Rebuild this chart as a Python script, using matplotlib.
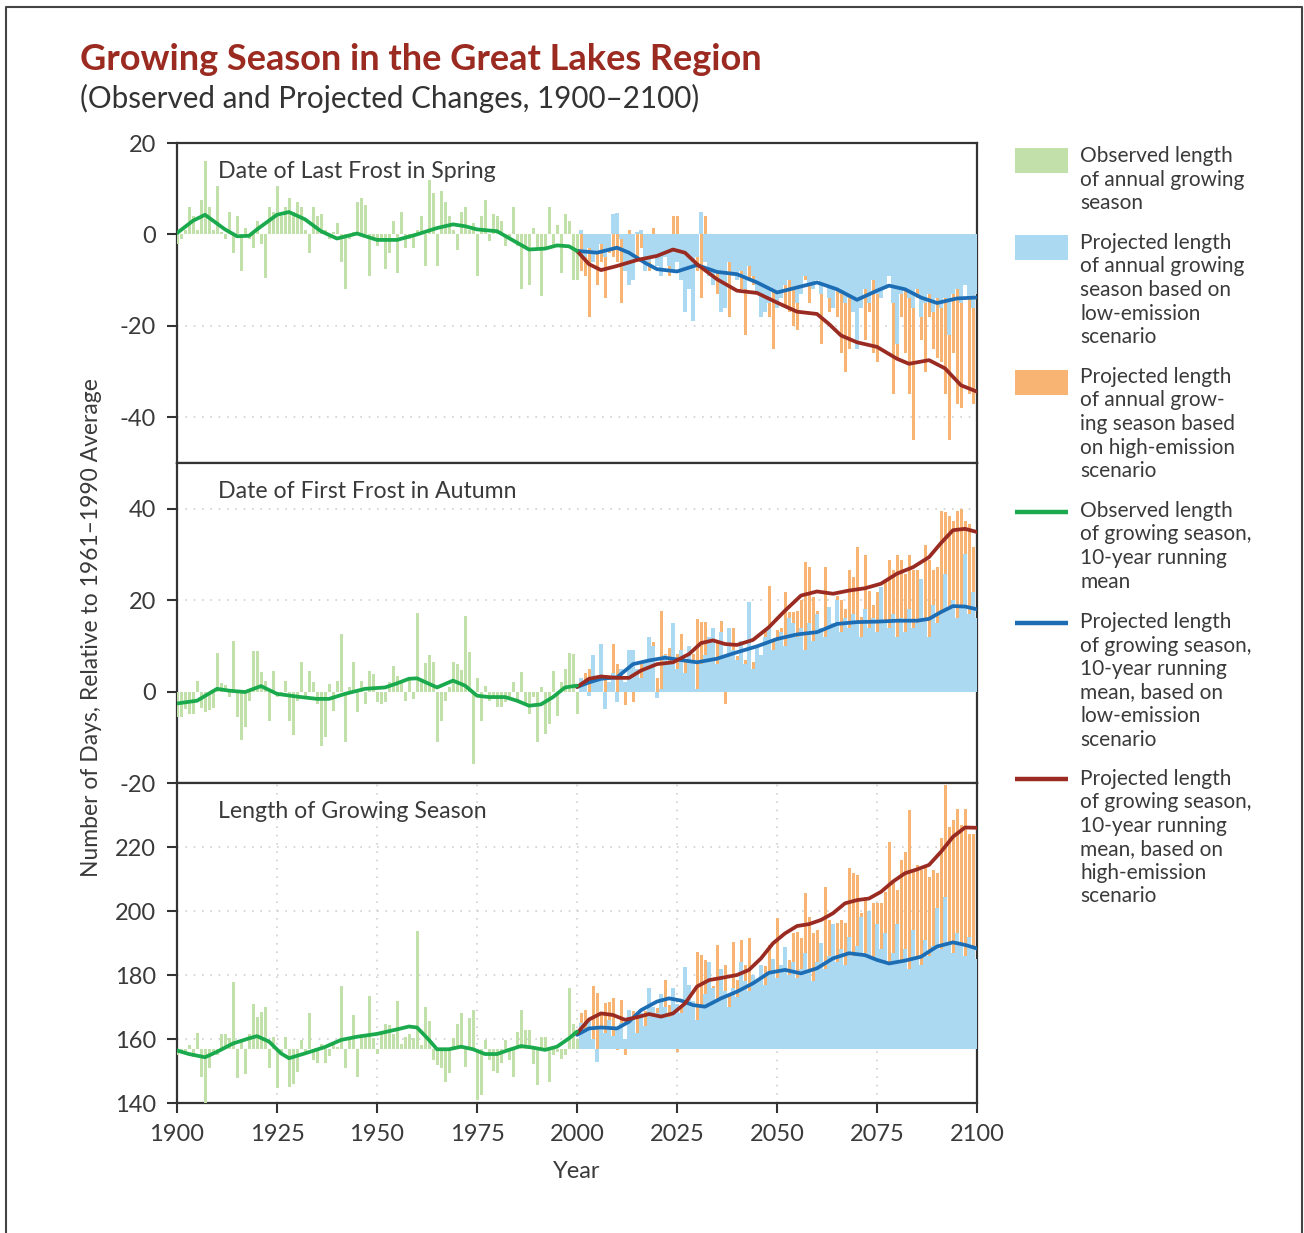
import matplotlib
matplotlib.use("Agg")
import matplotlib.pyplot as plt
import numpy as np
from matplotlib.patches import Rectangle

plt.rcParams['font.family'] = ['Lato', 'DejaVu Sans']

# ---------------- data ----------------
obs_years = list(range(1900, 2001))
proj_years = list(range(2001, 2101))

# Panel 1: Date of last frost in spring (days relative to 1961-1990 avg)
spring_obs = [-2, -1, 1, 6, 4, 1, 7.5, 16, 6, 1,
              10.5, 0.5, -1, 5, -4, 4, -8, 1.5, -1, -3,
              3, -2, -9.5, 6, 5, 10.5, 4, 6, 8, 5,
              7, 6, 1, -4, 6, 4, 4.5, 1, -1, 0.5,
              2.5, -6, -12, -1, 0.5, 7, 8, 6.5, -9, -1,
              -2.5, -1, -7.5, -4, 3, -8.5, 5, -3, -1, -3,
              1, 4, -7, 12, 9, -7, 9.5, 7, 4, 1,
              -3.5, 5, 6, 1, 2.5, -9, 4, 7.5, -1.5, 4.5,
              4, 3, -2.5, -1, 6, -2.5, -12, -3, -11, 1.5,
              -3, -13.5, -3, 6, -2.5, 2, -8.5, 4.5, 3, -10,
              -10]
spring_low = [1, -5, -3, -6, -4, -2, -5, -3, 4.5, 4.7,
              -1, -8, -11, -10, 0.5, 1, -8, -6, -5, -7,
              -9, -5, -7, -8, -6, -10, -17, -12, -19, -5,
              5, -6, -9, -11, -8, -17, -16, -6, -9, -10,
              -8, -12, -7, -9, -13, -18, -17, -15, -12, -16,
              -14, -11, -10, -12, -15, -13, -9, -11, -12, -10,
              -13, -11, -14, -16, -12, -13, -15, -14, -17, -25,
              -16, -12, -15, -10, -13, -14, -12, -9, -15, -24,
              -13, -12, -14, -16, -12, -18, -15, -13, -17, -14,
              -16, -14, -22, -13, -12, -15, -11, -14, -16, -13]
spring_high = [-8, -9, -18, -3, -11, -6, -14, -4, -5, -6,
               -15, -3, 1, -9, -5, -3, -6, -8, 1.5, -6,
               -5, -3, -9, 4, 4, -4, -7, -10, -13, -8,
               -14, 4, -8, -5, -13, -13, -9, -18, -5, -10,
               -12, -22, -10, -11, -5, -12, -9, -18, -25, -9,
               -13, -16, -17, -20, -21, -13, -10, -15, -9, -10,
               -24, -8, -17, -13, -18, -26, -30, -25, -11, -20,
               -14, -23, -17, -26, -28, -14, -10, -8, -35, -27,
               -18, -26, -35, -45, -14, -23, -30, -18, -25, -27,
               -28, -35, -45, -26, -37, -38, -8, -35, -37, -32]
spring_obs_mean_x = [1900, 1904, 1907, 1912, 1915, 1918, 1920, 1925, 1928, 1932, 1936, 1940, 1945,
                     1950, 1955, 1960, 1965, 1969, 1972, 1975, 1980, 1985, 1988, 1992, 1995, 1998, 2000]
spring_obs_mean = [0.3, 3, 4.3, 1.1, -0.4, -0.3, 1.1, 4.3, 4.9, 3.3, 0.7, -0.9, 0.2,
                   -1.2, -1.2, 0, 1.4, 2.2, 1.8, 1.1, 0.7, -1.8, -3.3, -3.1, -2.4, -2.6, -3.6]
spring_low_mean_x = [2000, 2005, 2010, 2013, 2017, 2020, 2025, 2030, 2035, 2040, 2045, 2050,
                     2055, 2060, 2065, 2070, 2075, 2078, 2082, 2086, 2090, 2095, 2100]
spring_low_mean = [-3.6, -4, -2.9, -4, -6.2, -7.6, -8.1, -6.7, -8.2, -8.7, -10.5, -12.7,
                   -11.6, -10.5, -12, -14.3, -12.3, -11.2, -12, -13.8, -15, -14, -13.8]
spring_high_mean_x = [2000, 2003, 2006, 2010, 2015, 2020, 2024, 2027, 2030, 2035, 2040, 2045, 2050,
                      2055, 2060, 2063, 2066, 2070, 2075, 2080, 2083, 2088, 2092, 2096, 2100]
spring_high_mean = [-3.6, -6.5, -7.8, -6.9, -5.6, -4.7, -3.3, -4, -6.5, -9.8, -12.3, -12.8, -14.9,
                    -16.9, -17.4, -19.6, -22.1, -23.6, -24.6, -27.2, -28.3, -27.5, -29.3, -33, -34.4]

# Panel 2: Date of first frost in autumn
autumn_obs = [-5.6, -5.6, -3.8, -5, -5, 2.4, -3.5, -4.5, -4, -3.5,
              8.4, 1.8, 1.5, -1.2, 11, -5.6, -10.7, -7.8, -2, 8.8,
              8.8, 4.2, 2.4, -6.4, 4.6, -1.2, -0.5, 2.4, -6.4, -9.6,
              -2, 6.4, -1.2, 4.6, 2, -2.7, -11.8, -10, 1.7, -4.2,
              2.4, 12.6, -11, 1, 6.4, -4.5, 2.4, -2.7, 4.6, 3.9,
              -2.3, -2.7, -2.3, 2, 5.7, 3.5, 2, -2, 3, -1.6,
              17.2, 2.4, 6.2, 7.9, 6.4, -11, -6.4, -2, 1, 6.4,
              6, 4.7, 16.6, 8.6, -15.8, 3, -6.4, 1.3, -2, -1.2,
              -3.4, -3.4, -2.3, -1.2, 2, -2.3, 4.2, -2.7, -4.9, -1.2,
              -11, 1.1, -9.3, -7, 4.6, -5.3, 2, 5, 8.4, 8.2,
              -5]
autumn_low = [3, 2, -1, 8, 3, 10.4, -3.8, 2, 4, -2.3,
              5, 2, 9, 9, 5, 3, 7, 12, 10, -1.5,
              0.5, 8, 6, 15, 5, 9, 4, 10, 7, 0.5,
              6, 8, 12, 14, 6, 13, 8, 14, 9, 7,
              11, 6, 19.6, 5, 10, 8, 12, 14, 9, 11,
              13, 10, 16, 15, 12, 14, 9, 15, 11, 17,
              14, 12, 18.5, 15, 20, 13, 16, 14, 17, 15,
              12, 18, 14, 16, 13, 22.8, 15, 14, 17, 12,
              16, 13, 18, 14, 15, 24.7, 16, 12, 19, 15,
              17, 25.8, 18, 20, 16, 19, 30, 17, 21.7, 16]
autumn_high = [3, 4, 5, 2, 3, 4, 3, 1, 10.4, 6,
               0.2, -3, 9, -2.3, 4, 6.4, 5.9, 10.8, 10.8, 3,
               17.7, 8.2, 9.6, 7.4, 8.2, 12.6, 6.8, 6.8, 8.2, 15.9,
               15.2, 15.2, 9.6, 14, 10.8, 15.5, -2.7, 8.7, 14, 7.7,
               10.8, 6.8, 11.2, 6.4, 10, 7.4, 13.7, 23.2, 11.2, 13.4,
               14, 21.8, 17.4, 17.4, 17.7, 20, 28.3, 27.2, 20.6, 17.7,
               9.4, 27.2, 16.3, 8.3, 21, 20, 18.1, 26.5, 25, 31.6,
               16.3, 29.8, 22.1, 19, 21.7, 10.8, 24.3, 28.7, 26.5, 29.8,
               28.7, 25.8, 29.8, 26.5, 26.5, 22.8, 32, 28.7, 26.5, 27.2,
               39.6, 39.3, 38.5, 37.4, 39.6, 40, 37.4, 36.7, 31.6, 35]
autumn_obs_mean_x = [1900, 1905, 1910, 1913, 1917, 1921, 1925, 1930, 1935, 1938, 1942, 1947, 1952,
                     1955, 1958, 1960, 1963, 1965, 1969, 1972, 1975, 1978, 1982, 1985, 1988, 1991,
                     1994, 1997, 2000]
autumn_obs_mean = [-2.6, -2, 0.6, 0.2, -0.1, 1.2, -0.5, -1.1, -1.6, -1.6, -0.5, 0.6, 0.9,
                   1.8, 2.8, 2.9, 1.7, 0.9, 2.4, 1.3, -0.9, -1.2, -1.2, -2, -3.1, -2.8,
                   -1.2, 0.9, 1.3]
autumn_low_mean_x = [2000, 2003, 2006, 2010, 2014, 2018, 2022, 2026, 2030, 2035, 2040, 2045, 2050,
                     2055, 2060, 2065, 2070, 2075, 2080, 2085, 2088, 2091, 2094, 2097, 2100]
autumn_low_mean = [1, 2, 2.8, 3.1, 6, 6.8, 7.4, 6.9, 6.4, 7.2, 8.6, 9.9, 11.5,
                   12.5, 13, 14.8, 15.2, 15.3, 15.5, 15.5, 15.9, 17.4, 18.7, 18.6, 18]
autumn_high_mean_x = [2000, 2003, 2006, 2010, 2013, 2016, 2020, 2024, 2028, 2031, 2034, 2037, 2040,
                      2044, 2048, 2052, 2056, 2060, 2064, 2068, 2072, 2076, 2080, 2084, 2088, 2091,
                      2094, 2097, 2100]
autumn_high_mean = [1, 2.8, 3.3, 3, 3, 4.6, 6, 6.4, 8.2, 10.6, 11.2, 10.4, 10.2,
                    11.3, 14.1, 17.7, 21, 21.9, 21.4, 22.1, 22.6, 23.6, 25.8, 27.2, 29.4, 32.5,
                    35.3, 35.6, 34.9]

# Panel 3: Length of growing season (days)
season_baseline = 157
season_obs = [155, 156, 155.5, 158, 154.5, 161.8, 148, 139.4, 151, 156,
              155, 161.5, 161.7, 160.3, 177.8, 147.8, 159, 149, 161.7, 171,
              167, 168.5, 170, 151, 160.7, 144.6, 156, 160.7, 145, 146,
              149.6, 159.7, 156, 168, 153.5, 152.5, 158.5, 152.5, 154.6, 158,
              157.5, 176.6, 151, 159.7, 167.5, 148, 161.7, 161.7, 173.4, 160.2,
              155.2, 161.7, 164.8, 164.3, 161.7, 172, 158.5, 160.7, 161.7, 160.2,
              193.9, 158, 170, 165.7, 153.5, 152, 151, 146.7, 149.3, 160.2,
              164.8, 168, 151.2, 166.6, 169, 141, 142.5, 159.7, 153.5, 150,
              149.5, 152.6, 159.7, 153.5, 148, 162.2, 169, 162.7, 162.7, 152.3,
              145.6, 160.7, 160.7, 146.7, 155, 155.8, 153.8, 155, 175.8, 164.8,
              160]
season_low = [165, 163, 166, 160, 152.9, 164, 162, 166, 161, 163,
              165, 160, 169, 166, 162, 168, 164, 176, 170, 168,
              174, 170, 167, 176, 171, 168, 182.6, 177, 172, 166,
              170, 174, 184, 176, 172, 182, 175, 170, 176, 173,
              184, 178, 175, 180, 178, 183, 177, 181, 185, 179,
              183, 188.9, 180, 184, 179, 182, 186.9, 181, 178, 184,
              190, 182, 186, 196, 184, 188, 183, 192, 186, 189,
              198, 187, 200, 185, 196, 188, 193, 183, 187, 196,
              184, 188, 182, 194, 186, 183, 191, 186, 189, 201,
              188, 204.5, 190, 187, 193, 189, 186, 192, 188, 185]
season_high = [168, 169, 160.3, 176.6, 174.3, 168, 171.1, 171.6, 172.7, 156.5,
               172.2, 155, 166.6, 168.6, 167.1, 167.6, 168.6, 173.8, 169.6, 169.6,
               169.6, 178.4, 170.7, 172.2, 155.9, 169.6, 177.3, 173.2, 168, 187.3,
               186.3, 184.7, 176, 176.5, 189.4, 176.5, 183.2, 173.8, 190.4, 178.4,
               190.9, 183.2, 191.5, 178.4, 174.3, 176.5, 182.7, 189.4, 180.5, 197.7,
               180.5, 188.9, 184.7, 193, 193.5, 191.5, 205.5, 198.2, 193, 194,
               187.8, 207.6, 197.2, 195.1, 196.2, 197.2, 196.2, 213.3, 211.8, 211.2,
               199.3, 204.5, 196.2, 202.4, 202.4, 202.4, 206, 221.7, 208.6, 206.5,
               215.9, 218.5, 231.6, 212.8, 214.4, 212.8, 213.8, 210.7, 212.8, 211.8,
               222.7, 239.4, 226.3, 228.4, 232, 226.8, 232, 224.2, 224.2, 224.2]
season_obs_mean_x = [1900, 1903, 1907, 1910, 1914, 1918, 1920, 1923, 1926, 1928, 1932, 1937, 1941,
                     1945, 1950, 1955, 1958, 1960, 1963, 1965, 1968, 1971, 1974, 1977, 1980, 1983,
                     1986, 1989, 1992, 1995, 1998, 2000]
season_obs_mean = [156.4, 155.3, 154.3, 156, 158.6, 160.2, 160.9, 159.2, 155.5, 154, 155.5, 157.5, 159.7,
                   160.7, 161.6, 163, 163.9, 163.6, 159.7, 156.8, 156.8, 157.6, 156.8, 155.3, 155.3, 156.6,
                   157.8, 157.3, 156.6, 157.6, 160.2, 162.3]
season_low_mean_x = [2000, 2003, 2006, 2010, 2013, 2016, 2020, 2023, 2026, 2029, 2032, 2036, 2040,
                     2044, 2048, 2052, 2056, 2060, 2064, 2068, 2072, 2075, 2078, 2082, 2086, 2090,
                     2094, 2097, 2100]
season_low_mean = [161.3, 163.3, 163.6, 163.3, 165.4, 169, 171.7, 172.7, 172, 170.6, 170.1, 172.7, 174.8,
                   177.4, 180.7, 181.6, 180.5, 182.1, 185.2, 186.8, 186.2, 184.7, 183.6, 184.5, 185.7, 188.9,
                   190.2, 189.4, 188.3]
season_high_mean_x = [2000, 2003, 2006, 2009, 2012, 2015, 2018, 2021, 2024, 2027, 2030, 2033, 2037,
                      2040, 2043, 2046, 2049, 2052, 2055, 2058, 2061, 2064, 2067, 2070, 2073, 2076,
                      2079, 2082, 2085, 2088, 2091, 2094, 2097, 2100]
season_high_mean = [161.8, 166.1, 168, 167.5, 166, 166.8, 167.8, 167, 168, 171.1, 176.4, 178.4, 179.3,
                    180, 181.6, 185.2, 189.9, 193, 195.3, 195.9, 197.2, 199.3, 202.4, 203.4, 203.9, 206,
                    209.2, 211.8, 213, 214.4, 218.5, 223.2, 226.1, 226]

panel_titles = ["Date of Last Frost in Spring", "Date of First Frost in Autumn", "Length of Growing Season"]
x_ticks = [1900, 1925, 1950, 1975, 2000, 2025, 2050, 2075, 2100]

# ---------------- style ----------------
GREEN_BAR = "#c2e1aa"
BLUE_BAR = "#acd9f2"
ORANGE_BAR = "#f8b472"
GREEN_LINE = "#1aa94c"
BLUE_LINE = "#1d6db5"
RED_LINE = "#9a2b22"
TEXT = "#3a3a3a"
SPINE = "#333333"
GRID = "#cfcfcf"

W, H = 1304, 1233
fig = plt.figure(figsize=(W / 100, H / 100), dpi=100)

# overlay for frame, titles, legend (pixel coordinates)
ov = fig.add_axes([0, 0, 1, 1], zorder=0)
ov.set_xlim(0, W)
ov.set_ylim(H, 0)
ov.axis("off")
ov.patch.set_alpha(0)

def px_axes(l, t, r, b):
    return [l / W, 1 - b / H, (r - l) / W, (b - t) / H]

panels = [
    dict(pos=px_axes(177, 143, 977, 463), obs=spring_obs, low=spring_low, high=spring_high,
         base=0, ylim=(-50, 20), yticks=[20, 0, -20, -40], grid=[-20, -40],
         mx=(spring_obs_mean_x, spring_low_mean_x, spring_high_mean_x),
         my=(spring_obs_mean, spring_low_mean, spring_high_mean)),
    dict(pos=px_axes(177, 463, 977, 783), obs=autumn_obs, low=autumn_low, high=autumn_high,
         base=0, ylim=(-20, 50), yticks=[40, 20, 0, -20], grid=[40, 20],
         mx=(autumn_obs_mean_x, autumn_low_mean_x, autumn_high_mean_x),
         my=(autumn_obs_mean, autumn_low_mean, autumn_high_mean)),
    dict(pos=px_axes(177, 783, 977, 1103), obs=season_obs, low=season_low, high=season_high,
         base=season_baseline, ylim=(140, 240), yticks=[220, 200, 180, 160, 140],
         grid=[160, 180, 200, 220],
         mx=(season_obs_mean_x, season_low_mean_x, season_high_mean_x),
         my=(season_obs_mean, season_low_mean, season_high_mean)),
]

for i, p in enumerate(panels):
    ax = fig.add_axes(p["pos"], zorder=2)
    base = p["base"]
    high = np.array(p["high"], dtype=float)
    low = np.array(p["low"], dtype=float)
    obs = np.array(p["obs"], dtype=float)
    ax.bar(proj_years, high - base, bottom=base, width=0.75, color=ORANGE_BAR, linewidth=0, zorder=2)
    ax.bar(proj_years, low - base, bottom=base, width=1.0, color=BLUE_BAR, linewidth=0, zorder=3)
    ax.bar(obs_years, obs - base, bottom=base, width=0.75, color=GREEN_BAR, linewidth=0, zorder=3)
    for g in p["grid"]:
        ax.axhline(g, color=GRID, lw=1.2, ls=(0, (1, 4)), zorder=1)
    if i == 2:
        for xv in [1925, 1950, 1975, 2000, 2025, 2050, 2075]:
            ax.axvline(xv, color=GRID, lw=1.2, ls=(0, (1, 4)), zorder=1)
    ox, lx, hx = p["mx"]
    oy, ly, hy = p["my"]
    ax.plot(lx, ly, color=BLUE_LINE, lw=2.7, zorder=5, solid_capstyle="round", solid_joinstyle="round")
    ax.plot(hx, hy, color=RED_LINE, lw=2.7, zorder=6, solid_capstyle="round", solid_joinstyle="round")
    ax.plot(ox, oy, color=GREEN_LINE, lw=2.7, zorder=7, solid_capstyle="round", solid_joinstyle="round")
    ax.set_xlim(1900, 2100)
    ax.set_ylim(*p["ylim"])
    ax.set_yticks(p["yticks"])
    ax.set_yticklabels([str(t) for t in p["yticks"]])
    ax.tick_params(axis="y", direction="out", length=7, width=1.5, color=SPINE,
                   labelsize=17, labelcolor=TEXT, pad=8)
    if i == 2:
        ax.set_xticks(x_ticks)
        ax.tick_params(axis="x", direction="out", length=7, width=1.5, color=SPINE,
                       labelsize=17, labelcolor=TEXT, pad=8)
        ax.set_xlabel("Year", fontsize=17, color=TEXT, labelpad=12)
    else:
        ax.set_xticks([])
    for s in ax.spines.values():
        s.set_color(SPINE)
        s.set_linewidth(1.6)
    ax.text(0.051, 0.91, panel_titles[i], transform=ax.transAxes, fontsize=16.7,
            color=TEXT, va="center", ha="left", zorder=10)

# y-axis label
ov.text(92, 628, "Number of Days, Relative to 1961\u20131990 Average", rotation=90,
        ha="center", va="center", fontsize=16.5, color=TEXT)

# titles
ov.text(80, 60, "Growing Season in the Great Lakes Region", fontsize=26, fontweight="bold",
        color="#9b2a21", ha="left", va="center")
ov.text(80, 98, "(Observed and Projected Changes, 1900\u20132100)", fontsize=21.3,
        color="#333333", ha="left", va="center")

# frame around the graphic
ov.plot([6, 6, 1302, 1302], [H, 7, 7, H], color="#444444", lw=1.5, clip_on=False)

# legend
legend_entries = [
    ("patch", GREEN_BAR, 148, ["Observed length", "of annual growing", "season"], 156),
    ("patch", BLUE_BAR, 235, ["Projected length", "of annual growing", "season based on",
                              "low-emission", "scenario"], 243),
    ("patch", ORANGE_BAR, 370, ["Projected length", "of annual grow-", "ing season based",
                                "on high-emission", "scenario"], 377),
    ("line", GREEN_LINE, 512, ["Observed length", "of growing season,", "10-year running", "mean"], 511),
    ("line", BLUE_LINE, 623, ["Projected length", "of growing season,", "10-year running",
                              "mean, based on", "low-emission", "scenario"], 622),
    ("line", RED_LINE, 779, ["Projected length", "of growing season,", "10-year running",
                             "mean, based on", "high-emission", "scenario"], 779),
]
for kind, col, ys, lines, ty in legend_entries:
    if kind == "patch":
        ov.add_patch(Rectangle((1015, ys), 53, 25, facecolor=col, edgecolor="none"))
    else:
        ov.plot([1015, 1068], [ys, ys], color=col, lw=3.2, solid_capstyle="butt")
    for k, t in enumerate(lines):
        ov.text(1080, ty + 23.5 * k, t, fontsize=15, color=TEXT, ha="left", va="center")

fig.savefig("out.png", dpi=100)
